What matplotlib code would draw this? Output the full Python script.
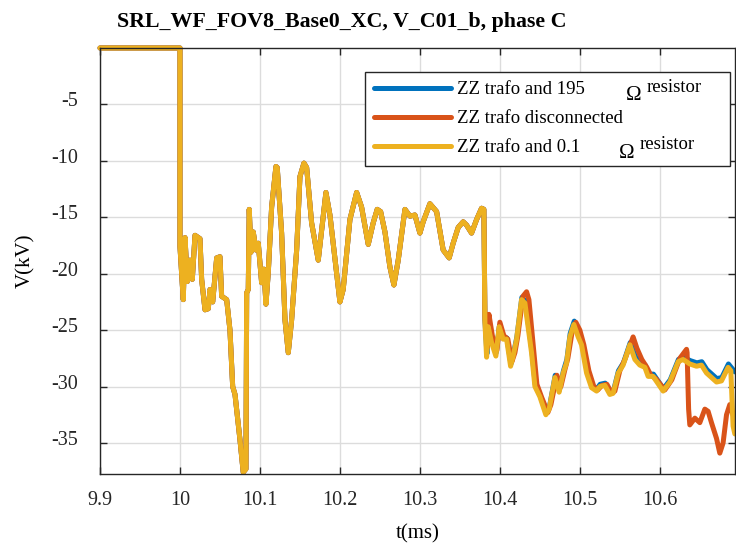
import numpy as np
import matplotlib
matplotlib.use('Agg')
import matplotlib.pyplot as plt
import matplotlib.transforms as mtransforms

plt.rcParams['font.family'] = ['Liberation Serif', 'DejaVu Serif']
plt.rcParams['axes.unicode_minus'] = False

# common part (all three cases identical before ~10.38 ms)
t_common = [9.9, 10.0, 10.0, 10.0041, 10.0063, 10.0091, 10.0125, 10.0154, 10.0188, 10.025,
            10.0271, 10.0313, 10.0354, 10.0375, 10.0409, 10.0459, 10.05, 10.0521, 10.0584,
            10.0625, 10.0659, 10.0688, 10.075, 10.0791, 10.0825, 10.0834, 10.0854, 10.0866,
            10.0888, 10.0916, 10.095, 10.0979, 10.1021, 10.105, 10.1075, 10.1104, 10.1146,
            10.12, 10.1216, 10.1271, 10.1313, 10.1354, 10.1396, 10.1459, 10.15, 10.155,
            10.1584, 10.1646, 10.1729, 10.1825, 10.1875, 10.2, 10.2041, 10.2125, 10.2209,
            10.2271, 10.2354, 10.2416, 10.2466, 10.2509, 10.2563, 10.2625, 10.2675, 10.2729,
            10.2813, 10.2875, 10.2938, 10.3, 10.3041, 10.3125, 10.3209, 10.3291, 10.3366,
            10.3416, 10.3479, 10.3541, 10.3584, 10.3646, 10.3709, 10.3771, 10.38]
v_common = [0, 0, -17.6, -22.3, -16.8, -20.7, -18.8, -20.5, -16.6, -16.9,
            -20.5, -23.2, -23.1, -21.4, -22.5, -18.6, -18.5, -22.0, -22.3,
            -25.0, -30.0, -30.7, -34.7, -37.6, -37.3, -21.7, -21.4, -14.3,
            -18.1, -16.3, -17.9, -17.3, -20.8, -19.6, -22.7, -19.9, -14.1,
            -10.5, -10.6, -16.4, -24.1, -27.0, -24.1, -17.9, -11.4, -10.2,
            -10.6, -15.5, -18.8, -12.8, -14.8, -22.5, -21.4, -15.2, -12.8,
            -14.1, -17.4, -15.5, -14.3, -14.5, -16.3, -19.4, -21.0, -18.8,
            -14.3, -14.9, -14.8, -16.4, -15.4, -13.8, -14.5, -17.9, -18.6,
            -17.3, -15.9, -15.4, -15.7, -16.4, -15.2, -14.2, -14.3]

# ZZ trafo and 0.1 ohm resistor (yellow)
t_yel = [10.3813, 10.3834, 10.3854, 10.3896, 10.395, 10.3991, 10.4041, 10.4084, 10.4134,
         10.4166, 10.4209, 10.4271, 10.4313, 10.4396, 10.4438, 10.45, 10.4575, 10.4616,
         10.4688, 10.4741, 10.4791, 10.4834, 10.4875, 10.4925, 10.4979, 10.5021, 10.5084,
         10.5146, 10.5209, 10.525, 10.5313, 10.5375, 10.5416, 10.5479, 10.5541, 10.5625,
         10.5688, 10.575, 10.5813, 10.5854, 10.5916, 10.6041, 10.6125, 10.6229, 10.6291,
         10.6375, 10.6459, 10.6521, 10.6584, 10.6709, 10.6771, 10.6854, 10.6888, 10.6916,
         10.6938]
v_yel = [-24.3, -27.4, -24.7, -26.1, -27.3, -24.7, -25.8, -25.8, -28.2,
         -27.3, -25.8, -22.3, -22.6, -27.0, -30.0, -30.9, -32.5, -32.0,
         -29.2, -30.5, -28.8, -27.9, -25.6, -24.5, -25.6, -26.3, -28.8,
         -30.1, -30.4, -30.0, -29.9, -30.7, -30.6, -28.8, -28.1, -26.3,
         -27.6, -28.1, -28.3, -29.1, -29.1, -30.4, -29.6, -27.8, -27.6,
         -28.0, -28.2, -28.1, -28.8, -29.6, -29.5, -28.3, -28.6, -33.5,
         -34.2]

# ZZ trafo and 195 ohm resistor (blue)
t_blu = [10.3813, 10.3838, 10.3858, 10.39, 10.3954, 10.3995, 10.4045, 10.4088, 10.4138,
         10.417, 10.4213, 10.4275, 10.4317, 10.44, 10.4442, 10.4504, 10.4579, 10.462,
         10.4692, 10.4745, 10.4795, 10.4838, 10.4879, 10.493, 10.4984, 10.5026, 10.5089,
         10.515, 10.5213, 10.5254, 10.5317, 10.5379, 10.542, 10.5483, 10.5545, 10.563,
         10.5692, 10.5754, 10.5817, 10.5858, 10.592, 10.6045, 10.613, 10.6233, 10.6295,
         10.6379, 10.6463, 10.6525, 10.6588, 10.6713, 10.6775, 10.6858, 10.6892, 10.6938]
v_blu = [-24.1, -27.1, -24.5, -25.9, -27.0, -24.6, -25.6, -25.7, -28.0,
         -27.1, -25.6, -22.1, -22.4, -26.8, -29.8, -30.8, -32.3, -31.8,
         -29.0, -30.3, -28.6, -27.6, -25.3, -24.2, -25.1, -26.0, -28.6,
         -29.9, -30.2, -29.8, -29.7, -30.5, -30.4, -28.6, -27.9, -26.1,
         -27.3, -27.9, -28.1, -28.9, -28.9, -30.2, -29.4, -27.6, -27.4,
         -27.7, -27.9, -27.8, -28.5, -29.3, -29.2, -28.0, -28.3, -28.7]

# ZZ trafo disconnected (red)
t_red = [10.3813, 10.384, 10.3863, 10.3906, 10.3963, 10.4, 10.405, 10.41, 10.415,
         10.4188, 10.4225, 10.4288, 10.4334, 10.4363, 10.4425, 10.4463, 10.4525, 10.46,
         10.4638, 10.4713, 10.4763, 10.4813, 10.485, 10.49, 10.495, 10.5, 10.505,
         10.5113, 10.5175, 10.5225, 10.5275, 10.5338, 10.54, 10.5438, 10.55, 10.5563,
         10.5666, 10.5713, 10.5775, 10.5838, 10.5888, 10.595, 10.6063, 10.615, 10.625,
         10.6313, 10.6334, 10.6341, 10.636, 10.6375, 10.6438, 10.65, 10.6563, 10.6604,
         10.6646, 10.6709, 10.675, 10.6791, 10.6834, 10.6875, 10.6916, 10.6938]
v_red = [-23.8, -26.6, -23.6, -25.5, -26.8, -24.3, -25.5, -25.8, -27.8,
         -27.0, -25.5, -22.0, -21.6, -22.3, -27.0, -29.8, -31.0, -32.3,
         -31.6, -29.0, -30.0, -28.5, -27.5, -25.3, -24.3, -25.0, -26.3,
         -28.6, -30.0, -30.3, -29.9, -29.8, -30.6, -30.4, -28.6, -27.6,
         -25.6, -26.6, -27.6, -28.3, -29.0, -29.3, -30.3, -29.4, -27.5,
         -26.9, -26.7, -27.0, -32.0, -33.4, -32.8, -33.2, -32.0, -32.2,
         -33.2, -34.6, -35.9, -35.0, -32.5, -31.6, -32.5, -33.0]

labels = ['ZZ trafo and 195', 'ZZ trafo disconnected', 'ZZ trafo and 0.1']
colors = ['#0072BD', '#D95319', '#EDB120']
xticks = [9.9, 10.0, 10.1, 10.2, 10.3, 10.4, 10.5, 10.6]
xticklabels = ['9.9', '10', '10.1', '10.2', '10.3', '10.4', '10.5', '10.6']
yticks = [-35, -30, -25, -20, -15, -10, -5]

fig = plt.figure(figsize=(7.36, 5.45), dpi=100)
ax = fig.add_axes([100/736, 1 - 474/545, 635/736, 426/545])

series = [(t_blu, v_blu), (t_red, v_red), (t_yel, v_yel)]
for (tt, vv), c, lab in zip(series, colors, labels):
    ax.plot(t_common + tt, v_common + vv, color=c, lw=3.6, label=lab,
            solid_joinstyle='round', solid_capstyle='round', clip_on=False)

ax.set_xlim(9.9, 10.694)
ax.set_ylim(-37.75, 0)
ax.set_xticks(xticks)
ax.set_xticklabels(xticklabels)
ax.set_yticks(yticks)
ax.grid(True, color='#dcdcdc', lw=1)
ax.set_axisbelow(True)
ax.tick_params(direction='in', top=True, right=True, length=5, width=1,
               labelsize=14.5, colors='#262626')
ax.tick_params(axis='x', pad=12)
ax.tick_params(axis='y', pad=16)
# y labels sit a little above their ticks in the original
off = mtransforms.ScaledTranslation(0, 5/100, fig.dpi_scale_trans)
for lab in ax.get_yticklabels():
    lab.set_transform(lab.get_transform() + off)
for s in ax.spines.values():
    s.set_color('#262626')
    s.set_linewidth(1)
ax.set_xlabel('t(ms)', fontsize=15)
ax.set_ylabel('V(kV)', fontsize=15)
ax.xaxis.set_label_coords(0.5, (474 - 524) / 426)
ax.yaxis.set_label_coords((35 - 100) / 635, 0.5)

fig.text(117/736, 1 - 22/545, 'SRL_WF_FOV8_Base0_XC, V_C01_b, phase C',
         fontsize=15.75, fontweight='bold', ha='left', va='center')

x0 = (365 - 100) / 635
x1 = (730 - 100) / 635
leg = ax.legend(loc='upper left', bbox_to_anchor=(x0, (474 - 72) / 426, x1 - x0, 0),
                mode='expand', borderaxespad=0,
                fontsize=13.5, handlelength=4.1, labelspacing=0.63, fancybox=False,
                framealpha=1, edgecolor='#262626', borderpad=0.5, handletextpad=0.3)
leg.get_frame().set_linewidth(1)

# "Omega resistor" parts of the labels, Omega set lower as in the original
fig.canvas.draw()
r = fig.canvas.get_renderer()
for i, dx_om, dx_res in [(0, 177, 190), (2, 170, 183)]:
    bb = leg.get_texts()[i].get_window_extent(r)
    yc = (bb.y0 + bb.y1) / 2
    fig.text((bb.x0 + dx_om) / 736, (yc - 6) / 545, '\u03A9',
             fontsize=15, ha='center', va='center', zorder=10)
    fig.text((bb.x0 + dx_res) / 736, (yc + 3) / 545, 'resistor',
             fontsize=13.5, ha='left', va='center', zorder=10)

fig.savefig('out.png', dpi=100)
